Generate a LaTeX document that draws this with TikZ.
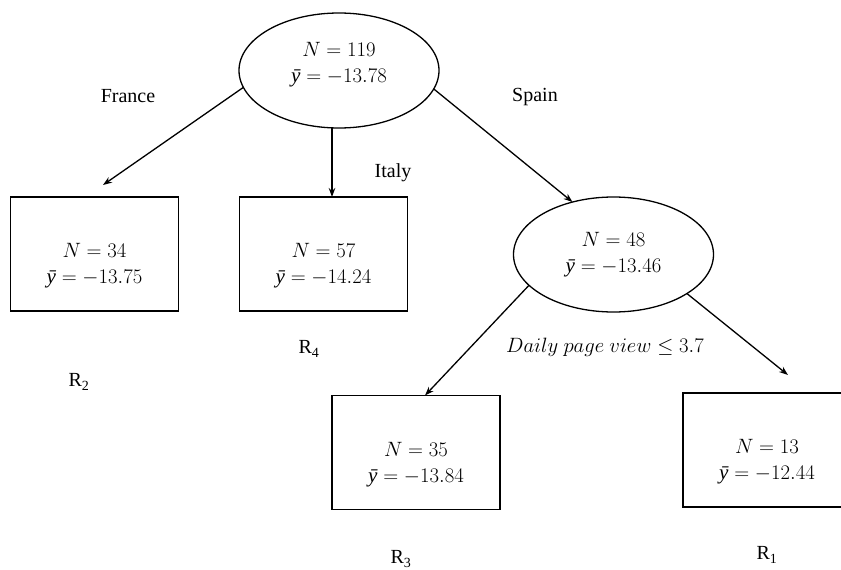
\documentclass[tikz,border=0pt]{standalone}
\usepackage{fontspec}
\setmainfont{Liberation Serif}
\usetikzlibrary{arrows.meta,shapes.geometric}
\newcommand{\ybar}{\textit{ȳ}}
\begin{document}
\begin{tikzpicture}[x=1pt,y=-1pt,
  every node/.style={font=\fontsize{21}{26}\selectfont},
  leaf/.style={draw, line width=1.4pt, minimum width=168pt, minimum height=114pt,
    inner sep=0pt, outer sep=0pt, align=center},
  split/.style={draw, ellipse, line width=1.3pt, minimum width=200pt, minimum height=115pt,
    inner sep=0pt, outer sep=0pt, align=center},
  edge/.style={line width=1.3pt, -{Stealth[length=9pt,width=6.5pt]}},
  lab/.style={font=\fontsize{20}{24}\selectfont}]
\useasboundingbox (0,0) rectangle (841,570);
\clip (0,0) rectangle (841,570);

% split nodes
\node[split] (root) at (339,70.5) {$N = 119$\\$\ybar = -13.78$\rule[-16pt]{0pt}{1pt}};
\node[split] (mid) at (613.5,254.5) {$N = 48$\\$\ybar = -13.46$};

% leaves (text sits a little below the box centre)
\node[leaf] (r2) at (94.5,254) {\rule{0pt}{38pt}$N = 34$\\$\ybar = -13.75$};
\node[leaf] (r4) at (323.5,254) {\rule{0pt}{38pt}$N = 57$\\$\ybar = -14.24$};
\node[leaf] (r3) at (416,452.5) {\rule{0pt}{38pt}$N = 35$\\$\ybar = -13.84$};
\node[leaf] (r1) at (767,450) {\rule{0pt}{38pt}$N = 13$\\$\ybar = -12.44$};

% branch labels
\node[lab] (lfr) at (128,96) {France};
\node[lab] (lit) at (393,173) {Italy};
\node[lab] (lsp) at (535,97) {Spain};
\node (ldpv) at (605,347) {$Daily\ page\ view \le 3.7$};

% region labels
\node[lab] (lr2) at (79,382) {R\textsubscript{2}};
\node[lab] (lr4) at (309,349) {R\textsubscript{4}};
\node[lab] (lr3) at (401,559) {R\textsubscript{3}};
\node[lab] (lr1) at (767,555) {R\textsubscript{1}};

% connectors
\coordinate (t2) at ([xshift=8.5pt,yshift=12pt]r2.north);
\draw[edge] (root.190) -- (t2);
\coordinate (t4) at ([xshift=8.5pt]r4.north);
\draw[edge] (t4 |- root.south) -- (t4);
\draw[edge] (root.349) -- (mid.128);
\coordinate (t3) at ([xshift=9pt]r3.north);
\draw[edge] (mid.200) -- (t3);
\coordinate (t1) at ([xshift=21pt,yshift=18pt]r1.north);
\draw[edge] (mid.332) -- (t1);
\end{tikzpicture}
\end{document}
